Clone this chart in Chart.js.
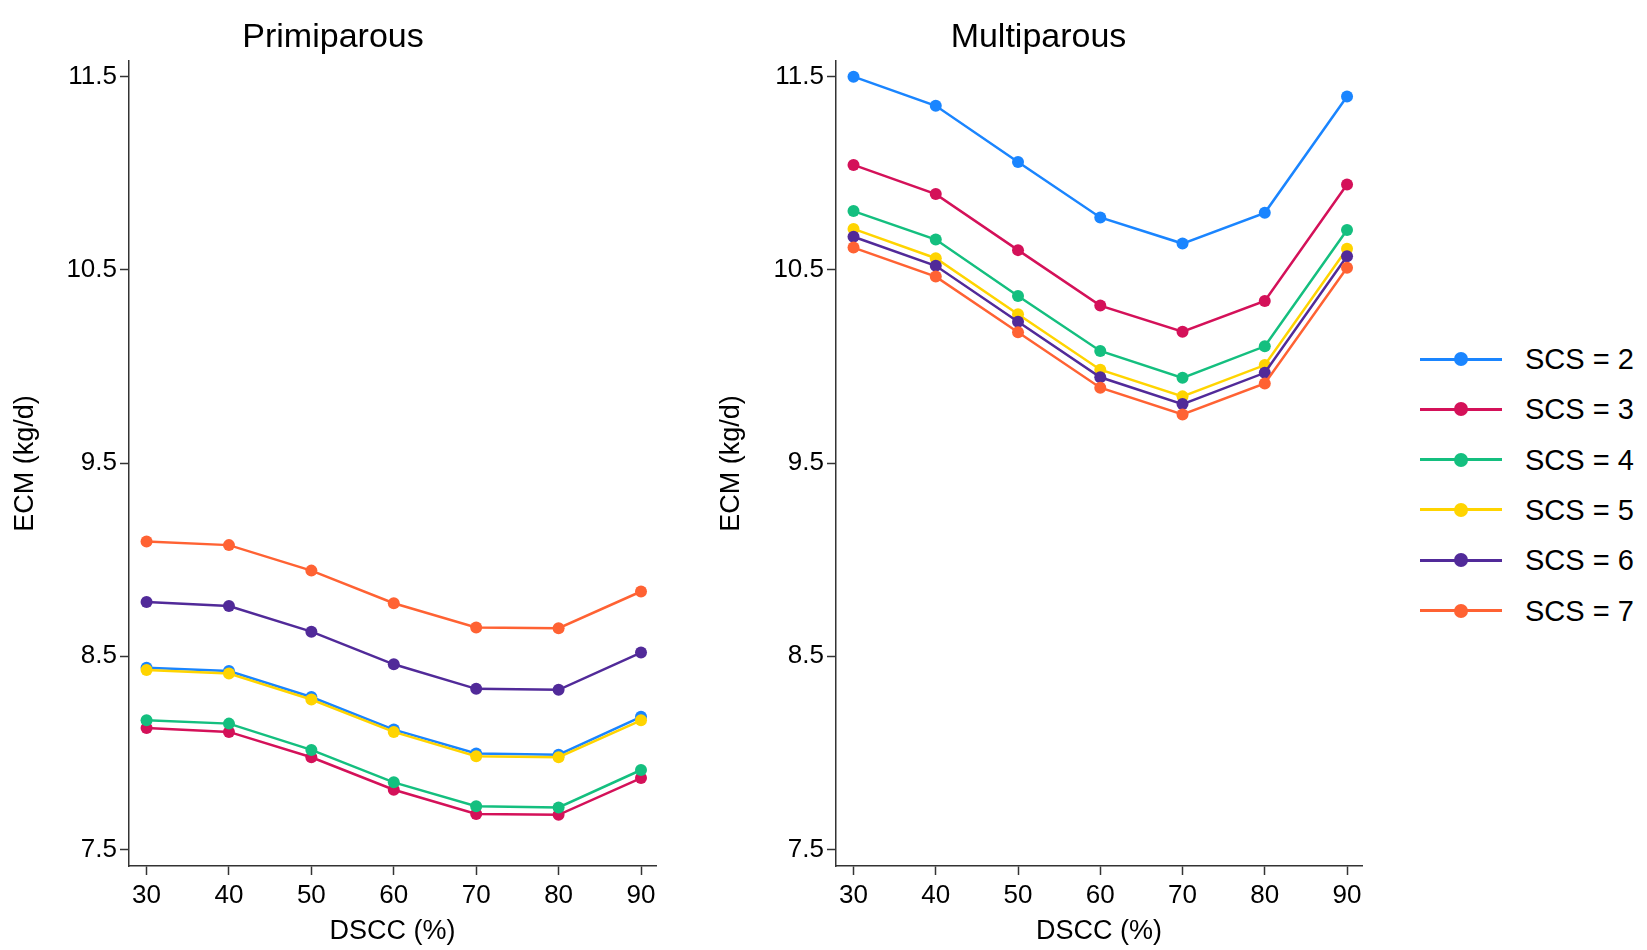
<!DOCTYPE html>
<html>
<head>
<meta charset="utf-8">
<script src="https://cdn.jsdelivr.net/npm/chart.js@4/dist/chart.umd.min.js"></script>
<style>
  html, body { margin: 0; padding: 0; background: #fff; }
  body { width: 1647px; height: 950px; position: relative; overflow: hidden;
         font-family: "Liberation Sans", Arial, Helvetica, sans-serif; }
  canvas { position: absolute; top: 0; }
  #c1 { left: 0px; }
  #c2 { left: 706px; }
  .lg-line { position: absolute; height: 3px; width: 82px; left: 1420px; }
  .lg-dot { position: absolute; width: 14px; height: 14px; border-radius: 50%; left: 1454px; }
  .lg-text { position: absolute; left: 1525px; font-size: 29px; color: #000; line-height: 32px; white-space: nowrap; }
</style>
</head>
<body>
<canvas id="c1" width="674" height="950"></canvas>
<canvas id="c2" width="672" height="950"></canvas>
<div id="legend"></div>
<script>
// ---- data ----
const dscc = [30, 40, 50, 60, 70, 80, 90];
const yTickValues = [7.5, 8.5, 9.5, 10.5, 11.5];
const seriesLabels = ['SCS = 2', 'SCS = 3', 'SCS = 4', 'SCS = 5', 'SCS = 6', 'SCS = 7'];
const seriesColors = ['#1a85ff', '#d41159', '#14bf7f', '#ffd400', '#512a99', '#ff6233'];

// Primiparous
const primi_scs2 = [8.440, 8.423, 8.289, 8.120, 7.996, 7.990, 8.186];
const primi_scs3 = [8.128, 8.108, 7.977, 7.809, 7.683, 7.679, 7.869];
const primi_scs4 = [8.168, 8.151, 8.015, 7.847, 7.723, 7.717, 7.911];
const primi_scs5 = [8.428, 8.410, 8.276, 8.108, 7.982, 7.977, 8.168];
const primi_scs6 = [8.780, 8.760, 8.627, 8.458, 8.331, 8.326, 8.519];
const primi_scs7 = [9.094, 9.075, 8.943, 8.774, 8.649, 8.645, 8.835];

// Multiparous
const multi_scs2 = [11.500, 11.349, 11.058, 10.771, 10.636, 10.795, 11.397];
const multi_scs3 = [11.043, 10.892, 10.602, 10.315, 10.180, 10.339, 10.942];
const multi_scs4 = [10.804, 10.657, 10.365, 10.080, 9.941, 10.104, 10.706];
const multi_scs5 = [10.712, 10.560, 10.270, 9.983, 9.845, 10.007, 10.609];
const multi_scs6 = [10.671, 10.521, 10.231, 9.944, 9.805, 9.967, 10.570];
const multi_scs7 = [10.615, 10.465, 10.177, 9.890, 9.751, 9.912, 10.511];

const primiSeries = [primi_scs2, primi_scs3, primi_scs4, primi_scs5, primi_scs6, primi_scs7];
const multiSeries = [multi_scs2, multi_scs3, multi_scs4, multi_scs5, multi_scs6, multi_scs7];

// ---- chart ----
const FONT = '"Liberation Sans", Arial, Helvetica, sans-serif';
const AXIS = '#333333';

function makeChart(id, title, series, padLeft, yWidth, padRight, yTitleOffset) {
  const datasets = series.map((vals, i) => ({
    label: seriesLabels[i],
    data: dscc.map((x, j) => ({ x: x, y: vals[j] })),
    borderColor: seriesColors[i],
    backgroundColor: seriesColors[i],
    pointBackgroundColor: seriesColors[i],
    pointBorderWidth: 0,
    pointRadius: 6,
    borderWidth: 2.5,
    tension: 0,
    order: series.length - i
  }));
  return new Chart(document.getElementById(id), {
    type: 'line',
    data: { datasets },
    options: {
      responsive: false,
      animation: false,
      devicePixelRatio: 1,
      layout: { padding: { left: padLeft, top: 0, right: padRight, bottom: 0 } },
      plugins: {
        legend: { display: false },
        tooltip: { enabled: false },
        title: {
          display: true, text: title, color: '#000',
          font: { family: FONT, size: 34, weight: 'normal', lineHeight: 1.2 },
          padding: { top: 17, bottom: 3.2 }
        }
      },
      scales: {
        x: {
          type: 'linear', min: 27.87, max: 91.82,
          afterBuildTicks: s => { s.ticks = dscc.map(v => ({ value: v })); },
          afterFit: s => { s.height = 84; },
          grid: { drawOnChartArea: false, drawTicks: true, tickLength: 9, tickWidth: 1.5, tickColor: AXIS },
          border: { display: true, color: AXIS, width: 1.5 },
          ticks: { color: '#000', font: { family: FONT, size: 26 }, padding: 5, maxRotation: 0, autoSkip: false },
          title: { display: true, text: 'DSCC (%)', color: '#000',
                   font: { family: FONT, size: 27, lineHeight: 1.2 }, padding: { top: 0, bottom: 1.8 } }
        },
        y: {
          type: 'linear', min: 7.414, max: 11.581,
          afterBuildTicks: s => { s.ticks = yTickValues.map(v => ({ value: v })); },
          afterFit: s => { s.width = yWidth; },
          grid: { drawOnChartArea: false, drawTicks: true, tickLength: 9, tickWidth: 1.5, tickColor: AXIS },
          border: { display: true, color: AXIS, width: 1.5 },
          ticks: { color: '#000', font: { family: FONT, size: 26 }, padding: 3,
                   callback: v => Number(v).toFixed(1) },
          title: { display: true, text: 'ECM (kg/d)', color: '#000',
                   font: { family: FONT, size: 27, lineHeight: 1.2 },
                   padding: { top: yTitleOffset, bottom: 0 } }
        }
      }
    }
  });
}

makeChart('c1', 'Primiparous', primiSeries, 10, 119, 18, -0.2);
makeChart('c2', 'Multiparous', multiSeries, 9, 121, 16, 0.8);

// ---- legend ----
const legend = document.getElementById('legend');
seriesLabels.forEach((lab, i) => {
  const y = 359 + i * 50.3;
  const line = document.createElement('div');
  line.className = 'lg-line'; line.style.top = (y - 1.5) + 'px'; line.style.background = seriesColors[i];
  const dot = document.createElement('div');
  dot.className = 'lg-dot'; dot.style.top = (y - 7) + 'px'; dot.style.background = seriesColors[i];
  const txt = document.createElement('div');
  txt.className = 'lg-text'; txt.style.top = (y - 16) + 'px'; txt.textContent = lab;
  legend.appendChild(line); legend.appendChild(dot); legend.appendChild(txt);
});
</script>
</body>
</html>
